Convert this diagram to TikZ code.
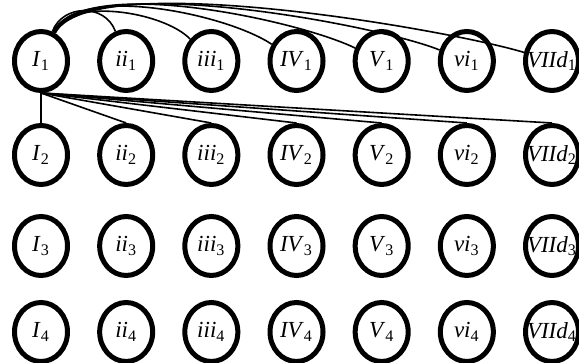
\documentclass[tikz,border=0pt]{standalone}
\usepackage{fontspec}
\setmainfont{Liberation Serif}
\usetikzlibrary{shapes.geometric}

\begin{document}
\begin{tikzpicture}[x=0.5pt,y=0.5pt,
	chord/.style={ellipse,draw,line width=2.5pt,minimum width=26.5pt,minimum height=29.5pt,inner sep=0pt,font=\fontsize{11.5}{13}\selectfont}]
	\useasboundingbox (0,0) rectangle (579,363);
	% the chords, one column per degree, one row per level
	\foreach \n [count=\c] in {I,ii,iii,IV,V,vi,VIId} {
		\foreach \r/\y in {1/302,2/208,3/117,4/31} {
			\node[chord] (\n\r) at ({41+85.17*(\c-1)},\y) {\makebox[0pt]{\textit{\n}\textsubscript{\r}}};
		}
	}
	% arcs over the first row
	\foreach \t/\o/\i/\l in {ii/69/110/1.2,iii/67/134/0.72,IV/66/146/0.64,V/65/154/0.55,vi/64/158/0.46,VIId/63/163/0.41}
		\draw[thick] (I1) to[out=\o,in=\i,looseness=\l] (\t1);
	% lines down to the second row
	\foreach \t in {I,ii,iii,IV,V,vi,VIId}
		\draw[thick] (I1.south) -- (\t2.north);
\end{tikzpicture}
\end{document}
